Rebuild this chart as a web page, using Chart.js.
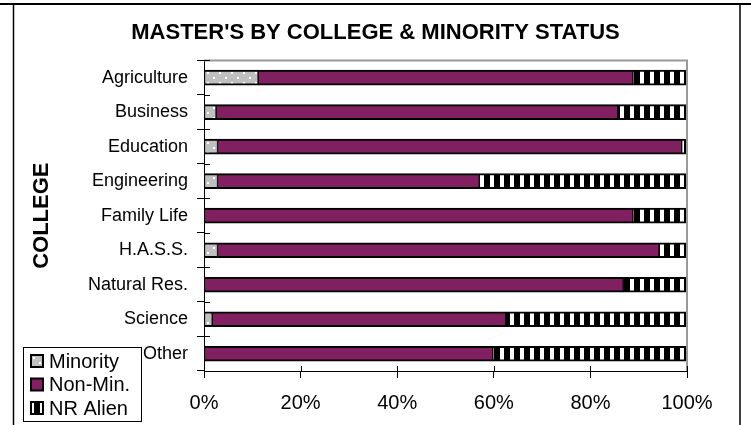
<!DOCTYPE html>
<html>
<head>
<meta charset="utf-8">
<script src="https://cdn.jsdelivr.net/npm/chart.js@4.4.1/dist/chart.umd.min.js"></script>
<style>
    html, body { margin: 0; padding: 0; background: #fff; }
</style>
</head>
<body>
<canvas id="chart" width="751" height="425"></canvas>
<script>
const colleges = ['Agriculture', 'Business', 'Education', 'Engineering', 'Family Life', 'H.A.S.S.', 'Natural Res.', 'Science', 'Other'];
const minority = [11.2, 2.5, 2.8, 2.8, 0, 2.8, 0, 1.7, 0];
const nonMinority = [77.6, 83.2, 96.1, 54.2, 88.8, 91.4, 86.8, 60.8, 59.8];
const nrAlien = [11.2, 14.3, 1.1, 43.0, 11.2, 5.8, 13.2, 37.5, 40.2];
const xTicks = [0, 20, 40, 60, 80, 100];

const FONT = "'Liberation Sans', Arial, sans-serif";

const makePattern = (w, h, draw) => {
    const c = document.createElement('canvas');
    c.width = w;
    c.height = h;
    const g = c.getContext('2d');
    draw(g);
    return g.createPattern(c, 'repeat');
};

// gray with a few white dots
const dotted = makePattern(12, 10, (g) => {
    g.fillStyle = '#c0c0c0';
    g.fillRect(0, 0, 12, 10);
    g.fillStyle = '#fff';
    g.fillRect(3, 2, 2, 2);
    g.fillRect(9, 7, 2, 2);
});

// black / white vertical stripes
const striped = makePattern(10, 10, (g) => {
    g.fillStyle = '#000';
    g.fillRect(0, 0, 10, 10);
    g.fillStyle = '#fff';
    g.fillRect(0, 0, 4, 10);
});

const frame = {
    id: 'frame',
    afterDraw(chart) {
        const { ctx, chartArea: a, scales } = chart;
        ctx.save();
        // outer page lines
        ctx.strokeStyle = '#000';
        ctx.lineWidth = 2;
        ctx.beginPath();
        ctx.moveTo(0, 4); ctx.lineTo(751, 4);
        ctx.stroke();
        ctx.lineWidth = 1.5;
        ctx.beginPath();
        ctx.moveTo(13.5, 4); ctx.lineTo(13.5, 425);
        ctx.moveTo(740, 4); ctx.lineTo(740, 425);
        ctx.stroke();

        // plot border top / right
        ctx.strokeStyle = '#999';
        ctx.lineWidth = 2;
        ctx.beginPath();
        ctx.moveTo(a.left, a.top); ctx.lineTo(a.right, a.top); ctx.lineTo(a.right, a.bottom);
        ctx.stroke();

        // inner halves of the cross ticks
        ctx.strokeStyle = '#000';
        ctx.lineWidth = 1;
        ctx.beginPath();
        for (let i = 0; i <= colleges.length; i++) {
            const py = Math.round(a.top + (a.bottom - a.top) * i / colleges.length) + 0.5;
            ctx.moveTo(a.left, py); ctx.lineTo(a.left + 6, py);
        }
        scales.x.ticks.forEach((t) => {
            const px = Math.round(scales.x.getPixelForValue(t.value)) + 0.5;
            ctx.moveTo(px, a.bottom); ctx.lineTo(px, a.bottom - 5);
        });
        ctx.stroke();

        // legend box
        ctx.fillStyle = '#fff';
        ctx.fillRect(23.5, 347.5, 118, 74);
        ctx.lineWidth = 1;
        ctx.strokeRect(23.5, 347.5, 118, 74);
        ctx.font = '20px ' + FONT;
        ctx.textBaseline = 'middle';
        chart.data.datasets.forEach((ds, i) => {
            const ly = 361 + i * 23.5;
            ctx.fillStyle = ds.backgroundColor;
            ctx.fillRect(31, ly - 6, 12, 12);
            ctx.lineWidth = 2;
            ctx.strokeStyle = '#000';
            ctx.strokeRect(31, ly - 6, 12, 12);
            ctx.fillStyle = '#000';
            ctx.fillText(ds.label, 49, ly + 1);
        });
        ctx.restore();
    },
};

const barStyle = {
    borderColor: '#000',
    borderWidth: { top: 2, bottom: 2, left: 1, right: 1 },
    borderSkipped: false,
    barThickness: 15,
};

new Chart(document.getElementById('chart'), {
    type: 'bar',
    data: {
        labels: colleges,
        datasets: [
            { label: 'Minority', data: minority, backgroundColor: dotted, ...barStyle },
            { label: 'Non-Min.', data: nonMinority, backgroundColor: '#802060', ...barStyle },
            { label: 'NR Alien', data: nrAlien, backgroundColor: striped, ...barStyle },
        ],
    },
    options: {
        indexAxis: 'y',
        responsive: false,
        animation: false,
        layout: { padding: 0 },
        plugins: {
            legend: { display: false },
            tooltip: { enabled: false },
            title: {
                display: true,
                text: "MASTER'S BY COLLEGE & MINORITY STATUS",
                color: '#000',
                font: { family: FONT, size: 22, weight: 'bold' },
                padding: { top: 20, bottom: 14 },
            },
        },
        scales: {
            x: {
                stacked: true,
                min: 0,
                max: 100,
                afterBuildTicks: (s) => { s.ticks = xTicks.map((v) => ({ value: v })); },
                afterFit: (s) => { s.height = 54; },
                ticks: {
                    callback: (v) => v + '%',
                    color: '#000',
                    font: { family: FONT, size: 20 },
                    padding: 13,
                    maxRotation: 0,
                },
                grid: { drawOnChartArea: false, tickLength: 7, color: '#000' },
                border: { color: '#000', width: 1 },
            },
            y: {
                stacked: true,
                afterFit: (s) => { s.width = 204; },
                ticks: {
                    color: '#000',
                    font: { family: FONT, size: 18 },
                    padding: 9,
                },
                grid: { drawOnChartArea: false, offset: true, tickLength: 7, color: '#000' },
                border: { color: '#000', width: 1 },
                title: {
                    display: true,
                    text: 'COLLEGE',
                    color: '#000',
                    font: { family: FONT, size: 22, weight: 'bold' },
                    padding: { top: 29, bottom: 0 },
                },
            },
            // empty right margin so the title centres on the whole page
            pad: {
                axis: 'y',
                position: 'right',
                afterFit: (s) => { s.width = 64; },
                ticks: { display: false },
                grid: { display: false },
                border: { display: false },
            },
        },
    },
    plugins: [frame],
});
</script>
</body>
</html>
